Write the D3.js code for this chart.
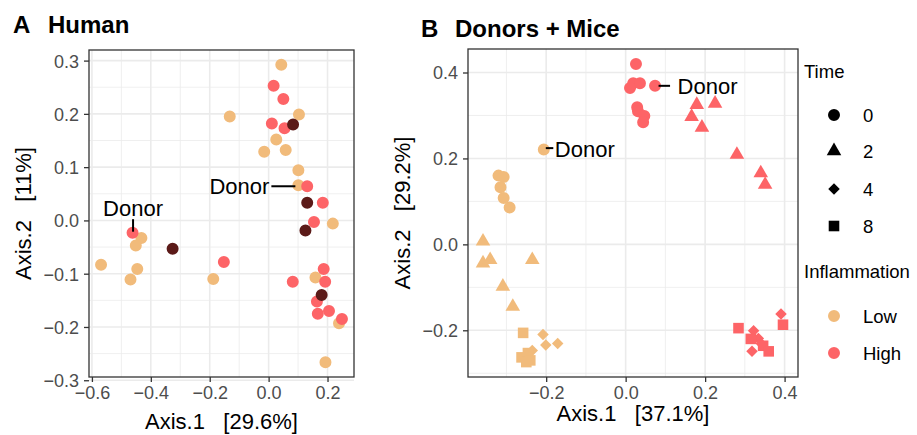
<!DOCTYPE html>
<html>
<head>
<meta charset="utf-8">
<script src="https://cdn.jsdelivr.net/npm/d3@7"></script>
<style>
  body { margin: 0; background: #fff; }
  svg { font-family: "Liberation Sans", Arial, sans-serif; }
</style>
</head>
<body>
<svg id="chart" width="917" height="435"></svg>
<script>
// ---- Panel A: Human (Axis.1 / Axis.2) ----
const humanLow = [
  [0.043, 0.292], [-0.132, 0.195], [0.103, 0.199], [0.026, 0.152], [-0.015, 0.129],
  [0.058, 0.132], [0.101, 0.094], [0.218, -0.006], [0.159, -0.107], [0.239, -0.193],
  [0.193, -0.266], [-0.432, -0.033], [-0.451, -0.047], [-0.569, -0.083], [-0.446, -0.091],
  [-0.469, -0.111], [-0.188, -0.110]
]
const humanHigh = [
  [0.017, 0.253], [0.050, 0.228], [0.011, 0.182], [0.054, 0.173], [0.131, 0.064],
  [0.184, 0.033], [0.154, -0.003], [0.187, -0.091], [0.192, -0.115], [0.082, -0.115],
  [0.164, -0.152], [0.167, -0.175], [0.205, -0.170], [0.249, -0.185], [-0.152, -0.078]
]
const humanOther = [
  [0.083, 0.180], [0.131, 0.033], [0.125, -0.019], [0.180, -0.140], [-0.326, -0.053]
]
// donor samples: x, y, inflammation
const humanDonors = [[0.101, 0.066, 'Low'], [-0.462, -0.023, 'High']]

// ---- Panel B: Donors + Mice, by inflammation and time ----
const miceLowT0 = [[-0.320, 0.160], [-0.307, 0.157], [-0.315, 0.133], [-0.307, 0.108], [-0.292, 0.086]]
const miceLowT2 = [[-0.359, 0.007], [-0.359, -0.044], [-0.341, -0.036], [-0.235, -0.036], [-0.309, -0.098], [-0.284, -0.145]]
const miceLowT4 = [[-0.208, -0.210], [-0.201, -0.234], [-0.171, -0.231], [-0.235, -0.247]]
const miceLowT8 = [[-0.258, -0.206], [-0.262, -0.263], [-0.246, -0.253], [-0.250, -0.274], [-0.240, -0.270]]
const miceHighT0 = [[0.026, 0.420], [0.019, 0.375], [0.036, 0.375], [0.011, 0.364], [0.029, 0.319], [0.031, 0.310], [0.047, 0.299], [0.044, 0.284]]
const miceHighT2 = [[0.179, 0.325], [0.225, 0.328], [0.166, 0.297], [0.192, 0.272], [0.280, 0.209], [0.340, 0.166], [0.351, 0.139]]
const miceHighT4 = [[0.391, -0.162], [0.322, -0.201], [0.334, -0.219], [0.318, -0.249], [0.341, -0.231]]
const miceHighT8 = [[0.284, -0.195], [0.396, -0.187], [0.315, -0.220], [0.346, -0.236], [0.360, -0.249]]
const miceDonors = [[-0.206, 0.221, 'Low'], [0.074, 0.369, 'High']]

const timeLevels = ['0', '2', '4', '8']
const inflammationLevels = ['Low', 'High']

const humanXTicks = [-0.6, -0.4, -0.2, 0.0, 0.2]
const humanYTicks = [-0.3, -0.2, -0.1, 0.0, 0.1, 0.2, 0.3]
const miceXTicks = [-0.2, 0.0, 0.2, 0.4]
const miceYTicks = [-0.2, 0.0, 0.2, 0.4]

// GrandBudapest1 colours
const colors = { Low: '#F1BB7B', High: '#FD6467', Other: '#5B1A18' }

const shapes = {
  '0': d3.symbol(d3.symbolCircle, 113)(),
  '2': d3.symbol(d3.symbolTriangle, 92)(),
  '4': d3.symbol(d3.symbolSquare, 66)(),
  '8': d3.symbol(d3.symbolSquare, 112)()
}
const shapeRotate = { '0': 0, '2': 0, '4': 45, '8': 0 }

const svg = d3.select('#chart')
const fmt = d3.format('.1f')

// ggplot style 5% expansion of the data range
function expand(values) {
  const ext = d3.extent(values)
  const pad = (ext[1] - ext[0]) * 0.05
  return [ext[0] - pad, ext[1] + pad]
}

function minorTicks(major, domain) {
  const step = major[1] - major[0]
  const out = []
  for (let v = major[0] - step / 2; v <= domain[1] + 1e-9; v += step) {
    if (v >= domain[0]) out.push(v)
  }
  return out
}

function drawPanel(p) {
  const g = svg.append('g')
  const xDom = expand(p.points.map(d => d[0]))
  const yDom = expand(p.points.map(d => d[1]))
  const x = d3.scaleLinear().domain(xDom).range([p.left, p.right])
  const y = d3.scaleLinear().domain(yDom).range([p.bottom, p.top])

  // grid
  const grid = g.append('g')
  grid.selectAll('line.minx').data(minorTicks(p.xTicks, xDom)).join('line')
    .attr('x1', d => x(d)).attr('x2', d => x(d)).attr('y1', p.top).attr('y2', p.bottom)
    .attr('stroke', '#ebebeb').attr('stroke-width', 0.8)
  grid.selectAll('line.miny').data(minorTicks(p.yTicks, yDom)).join('line')
    .attr('y1', d => y(d)).attr('y2', d => y(d)).attr('x1', p.left).attr('x2', p.right)
    .attr('stroke', '#ebebeb').attr('stroke-width', 0.8)
  grid.selectAll('line.majx').data(p.xTicks).join('line')
    .attr('x1', d => x(d)).attr('x2', d => x(d)).attr('y1', p.top).attr('y2', p.bottom)
    .attr('stroke', '#ebebeb').attr('stroke-width', 1.6)
  grid.selectAll('line.majy').data(p.yTicks).join('line')
    .attr('y1', d => y(d)).attr('y2', d => y(d)).attr('x1', p.left).attr('x2', p.right)
    .attr('stroke', '#ebebeb').attr('stroke-width', 1.6)

  // points
  p.layers.forEach(layer => {
    g.append('g').selectAll('path').data(layer.data).join('path')
      .attr('d', shapes[layer.time || '0'])
      .attr('transform', d => `translate(${x(d[0])},${y(d[1])}) rotate(${shapeRotate[layer.time || '0']})`)
      .attr('fill', colors[layer.color])
  })

  // donor labels
  p.donors.forEach((d, i) => {
    const px = x(d[0]), py = y(d[1])
    const o = p.labelOffsets[i]
    g.append('line')
      .attr('x1', px + o.seg[0]).attr('y1', py + o.seg[1])
      .attr('x2', px + o.seg[2]).attr('y2', py + o.seg[3])
      .attr('stroke', '#000').attr('stroke-width', 2)
    g.append('text')
      .attr('x', px + o.text[0]).attr('y', py + o.text[1])
      .attr('text-anchor', o.anchor)
      .attr('font-size', 22).attr('fill', '#000')
      .text('Donor')
  })

  // border
  g.append('rect')
    .attr('x', p.left).attr('y', p.top)
    .attr('width', p.right - p.left).attr('height', p.bottom - p.top)
    .attr('fill', 'none').attr('stroke', '#333').attr('stroke-width', 1.3)

  // axes
  const xAxis = g.append('g').attr('transform', `translate(0,${p.bottom})`)
    .call(d3.axisBottom(x).tickValues(p.xTicks).tickFormat(fmt).tickSize(5).tickPadding(4))
  const yAxis = g.append('g').attr('transform', `translate(${p.left},0)`)
    .call(d3.axisLeft(y).tickValues(p.yTicks).tickFormat(fmt).tickSize(5).tickPadding(5))
  ;[xAxis, yAxis].forEach(a => {
    a.select('.domain').remove()
    a.selectAll('.tick line').attr('stroke', '#333').attr('stroke-width', 1.3)
    a.selectAll('.tick text').attr('fill', '#4d4d4d').attr('font-size', 18)
      .attr('font-family', '"Liberation Sans", Arial, sans-serif')
  })
  yAxis.selectAll('.tick text').attr('dy', '0.36em')

  // axis titles
  g.append('text')
    .attr('x', (p.left + p.right) / 2).attr('y', p.xTitleY)
    .attr('text-anchor', 'middle').attr('font-size', 22)
    .attr('xml:space', 'preserve')
    .text(p.xTitle)
  g.append('text')
    .attr('transform', `translate(${p.yTitleX},${(p.top + p.bottom) / 2}) rotate(-90)`)
    .attr('text-anchor', 'middle').attr('font-size', 22)
    .attr('xml:space', 'preserve')
    .text(p.yTitle)

  // panel title
  g.append('text').attr('x', p.tagX).attr('y', p.titleY)
    .attr('font-size', 24).attr('font-weight', 'bold').text(p.tag)
  g.append('text').attr('x', p.titleX).attr('y', p.titleY)
    .attr('font-size', 24).attr('font-weight', 'bold').text(p.title)
}

const humanAll = humanLow.concat(humanHigh, humanOther, humanDonors)
drawPanel({
  left: 89, right: 354, top: 50, bottom: 377,
  points: humanAll,
  xTicks: humanXTicks, yTicks: humanYTicks,
  layers: [
    { data: humanLow.concat(humanDonors.filter(d => d[2] === 'Low')), color: 'Low' },
    { data: humanHigh.concat(humanDonors.filter(d => d[2] === 'High')), color: 'High' },
    { data: humanOther, color: 'Other' }
  ],
  donors: humanDonors,
  labelOffsets: [
    { seg: [-27, 1, -3, 1], text: [-29, 8.5], anchor: 'end' },
    { seg: [0.5, -13.5, 0.5, -1], text: [0.5, -16.5], anchor: 'middle' }
  ],
  xTitle: 'Axis.1   [29.6%]', yTitle: 'Axis.2   [11%]',
  xTitleY: 429, yTitleX: 31,
  tag: 'A', tagX: 13, title: 'Human', titleX: 48, titleY: 33
})

const miceLayers = []
inflammationLevels.forEach(level => {
  const sets = level === 'Low'
    ? [miceLowT0, miceLowT2, miceLowT4, miceLowT8]
    : [miceHighT0, miceHighT2, miceHighT4, miceHighT8]
  sets.forEach((s, i) => {
    const extra = i === 0 ? miceDonors.filter(d => d[2] === level) : []
    miceLayers.push({ data: s.concat(extra), color: level, time: timeLevels[i] })
  })
})
drawPanel({
  left: 468, right: 798, top: 49, bottom: 377,
  points: miceLayers.flatMap(l => l.data),
  xTicks: miceXTicks, yTicks: miceYTicks,
  layers: miceLayers,
  donors: miceDonors,
  labelOffsets: [
    { seg: [2, -1.3, 9.5, -1.3], text: [11, 8], anchor: 'start' },
    { seg: [3.5, 0, 15, 0], text: [22.5, 8.3], anchor: 'start' }
  ],
  xTitle: 'Axis.1   [37.1%]', yTitle: 'Axis.2   [29.2%]',
  xTitleY: 421, yTitleX: 410,
  tag: 'B', tagX: 421, title: 'Donors + Mice', titleX: 455, titleY: 36.5
})

// ---- legend ----
const legend = svg.append('g')
legend.append('text').attr('x', 804).attr('y', 78).attr('font-size', 18.5).text('Time')
const timeY = [115, 151, 189, 226]
timeLevels.forEach((t, i) => {
  legend.append('path').attr('d', shapes[t])
    .attr('transform', `translate(834,${timeY[i]}) rotate(${shapeRotate[t]})`)
    .attr('fill', '#000')
  legend.append('text').attr('x', 863).attr('y', timeY[i]).attr('dy', '0.36em')
    .attr('font-size', 18.5).text(t)
})
legend.append('text').attr('x', 804).attr('y', 278).attr('font-size', 18.5).text('Inflammation')
const inflY = [316, 353]
inflammationLevels.forEach((lv, i) => {
  legend.append('path').attr('d', shapes['0'])
    .attr('transform', `translate(834,${inflY[i]})`)
    .attr('fill', colors[lv])
  legend.append('text').attr('x', 863).attr('y', inflY[i]).attr('dy', '0.36em')
    .attr('font-size', 18.5).text(lv)
})
</script>
</body>
</html>
